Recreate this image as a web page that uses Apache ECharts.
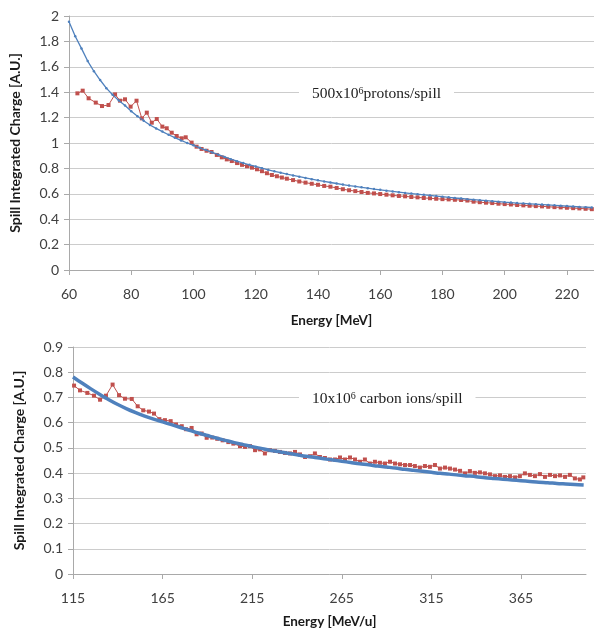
<!DOCTYPE html>
<html>
<head>
<meta charset="utf-8">
<script src="https://cdn.jsdelivr.net/npm/echarts@6/dist/echarts.min.js"></script>
<style>
html,body{margin:0;padding:0;background:#fff;}
#c{width:594px;height:635px;}
</style>
</head>
<body>
<div id="c"></div>
<script>
// ---------- Top chart (protons) ----------
const topXTicks = [60, 80, 100, 120, 140, 160, 180, 200, 220];
const topBlueE = [60,62,64,66,68,70,72,74,76,78,80,82,84,86,88,90,92,94,96,98,100,102,104,106,108,110,112,114,116,118,120,122,124,126,128,130,132,134,136,138,140,142,144,146,148,150,152,154,156,158,160,162,164,166,168,170,172,174,176,178,180,182,184,186,188,190,192,194,196,198,200,202,204,206,208,210,212,214,216,218,220,222,224,226,228];
const topBlueV = [1.955,1.84,1.745,1.645,1.565,1.496,1.432,1.38,1.335,1.295,1.25,1.21,1.175,1.142,1.115,1.09,1.065,1.042,1.02,1.0,0.982,0.962,0.944,0.926,0.908,0.89,0.873,0.857,0.842,0.828,0.815,0.802,0.789,0.777,0.766,0.755,0.745,0.735,0.725,0.715,0.706,0.697,0.689,0.681,0.673,0.665,0.658,0.651,0.644,0.637,0.631,0.625,0.619,0.613,0.607,0.602,0.597,0.592,0.587,0.582,0.577,0.572,0.567,0.563,0.558,0.554,0.55,0.546,0.542,0.538,0.534,0.531,0.527,0.524,0.521,0.518,0.515,0.512,0.509,0.506,0.503,0.5,0.497,0.495,0.492];
const topRedE = [62.7,64.4,66.3,68.6,70.6,72.7,74.8,76.4,78.0,79.8,81.7,83.4,85.0,86.6,88.2,90.0,91.4,93.0,94.6,96.2,97.5,99.4,101.0,102.6,104.2,105.8,107.5,109.1,110.7,112.3,114,115.6,117.2,118.8,120.4,122,123.6,125.2,126.8,128.4,130,132,134,136,138,140,142,144,146,148,150,152,154,156,158,160,162,164,166,168,170,172,174,176,178,180,182,184,186,188,190,192,194,196,198,200,202,204,206,208,210,212,214,216,218,220,222,224,226,228];
const topRedV = [1.391,1.412,1.352,1.318,1.291,1.299,1.383,1.333,1.344,1.286,1.333,1.194,1.239,1.160,1.189,1.129,1.116,1.081,1.055,1.037,1.045,1.003,0.971,0.953,0.939,0.929,0.906,0.887,0.871,0.858,0.842,0.828,0.817,0.806,0.793,0.778,0.762,0.748,0.738,0.728,0.719,0.708,0.697,0.688,0.679,0.671,0.662,0.656,0.646,0.636,0.628,0.621,0.614,0.607,0.603,0.598,0.593,0.588,0.583,0.580,0.575,0.572,0.567,0.565,0.561,0.558,0.556,0.553,0.551,0.547,0.538,0.534,0.530,0.527,0.522,0.519,0.516,0.512,0.509,0.506,0.503,0.501,0.498,0.495,0.493,0.490,0.487,0.485,0.482,0.479];

// ---------- Bottom chart (carbon) ----------
const botXTicks = [115, 165, 215, 265, 315, 365];
const botBlueE = [115,120,125,130,135,140,145,150,155,160,165,170,175,180,185,190,195,200,205,210,215,220,225,230,235,240,245,250,255,260,265,270,275,280,285,290,295,300,305,310,315,320,325,330,335,340,345,350,355,360,365,370,375,380,385,390,395,400];
const botBlueV = [0.781,0.757,0.734,0.712,0.691,0.672,0.655,0.640,0.626,0.614,0.603,0.592,0.581,0.570,0.559,0.549,0.539,0.530,0.521,0.513,0.505,0.498,0.491,0.485,0.479,0.473,0.467,0.462,0.457,0.452,0.447,0.442,0.437,0.433,0.428,0.424,0.420,0.415,0.411,0.407,0.403,0.399,0.396,0.392,0.389,0.386,0.382,0.379,0.376,0.373,0.370,0.367,0.364,0.362,0.359,0.357,0.355,0.353];
const botRedE = [115.6,118.9,123.0,126.7,130.1,133.4,137.1,140.7,144.0,147.8,151.1,154.2,157.4,160.2,163.2,166.3,169.5,172.5,175.7,178.1,181.2,184.0,186.8,189.6,192.7,195.5,198.5,201.7,204.5,208.2,211.0,213.8,216.6,219.4,222.1,224.9,227.7,230.5,233.3,236.1,238.9,241.7,244.5,247.3,250.0,252.8,255.6,258.4,261.2,264.0,266.8,269.6,272.4,275.2,277.9,280.7,283.5,286.3,289.1,291.9,294.7,297.5,300.3,303.1,305.8,308.6,311.4,314.2,317.0,319.8,322.6,325.4,328.2,331.0,333.8,336.5,339.3,342.1,344.9,347.7,350.5,353.3,356.1,358.9,361.7,364.4,367.2,370.0,372.8,375.6,378.4,381.2,384.0,386.8,389.6,392.3,395.1,397.9,399.8];
const botRedV = [0.747,0.728,0.718,0.707,0.691,0.707,0.751,0.709,0.695,0.694,0.665,0.649,0.644,0.636,0.614,0.610,0.606,0.593,0.586,0.574,0.579,0.554,0.557,0.540,0.541,0.536,0.530,0.523,0.517,0.507,0.504,0.507,0.491,0.494,0.478,0.491,0.488,0.484,0.480,0.478,0.484,0.474,0.464,0.467,0.478,0.464,0.460,0.454,0.454,0.462,0.454,0.462,0.454,0.445,0.454,0.438,0.445,0.441,0.438,0.445,0.438,0.435,0.432,0.432,0.428,0.422,0.428,0.425,0.432,0.418,0.422,0.418,0.414,0.409,0.399,0.408,0.401,0.403,0.399,0.395,0.388,0.391,0.385,0.388,0.383,0.388,0.399,0.393,0.388,0.396,0.385,0.393,0.388,0.391,0.385,0.393,0.379,0.375,0.383];

const yTitle = 'Spill Integrated Charge [A.U.]';
const topXTitle = 'Energy [MeV]';
const botXTitle = 'Energy [MeV/u]';

const pairs = (xs, ys) => xs.map((x, i) => [x, ys[i]]);

const BLUE = '#4F81BD';
const RED = '#C0504D';
const GRID = '#CCCCCC';
const AXIS = '#A9A9A9';
const LBL = '#404040';
const FONT = 'Lato, "Open Sans", sans-serif';
const SERIF = '"Liberation Serif", "Times New Roman", serif';

function xAxisCfg(idx, min, max, interval, name, gap) {
  return {
    type: 'value', gridIndex: idx, min: min, max: max, interval: interval,
    name: name, nameLocation: 'middle', nameGap: gap,
    nameTextStyle: {fontFamily: FONT, fontWeight: 'bold', fontSize: 13.5, color: '#1a1a1a'},
    axisLine: {show: true, onZero: false, lineStyle: {color: AXIS, width: 1}},
    axisTick: {show: true, length: 5, lineStyle: {color: AXIS}},
    axisLabel: {fontFamily: FONT, fontSize: 14, color: LBL, margin: 17, showMaxLabel: false},
    splitLine: {show: false}
  };
}
function yAxisCfg(idx, max, interval) {
  return {
    type: 'value', gridIndex: idx, min: 0, max: max, interval: interval,
    name: yTitle, nameLocation: 'middle', nameGap: 47, nameRotate: 90,
    nameTextStyle: {fontFamily: FONT, fontWeight: 'bold', fontSize: 14, color: '#1a1a1a'},
    axisLine: {show: true, lineStyle: {color: AXIS, width: 1}},
    axisTick: {show: true, length: 5, lineStyle: {color: AXIS}},
    axisLabel: {fontFamily: FONT, fontSize: 14, color: LBL, margin: 10},
    splitLine: {show: true, lineStyle: {color: GRID, width: 1}}
  };
}

const chart = echarts.init(document.getElementById('c'), null, {renderer: 'canvas'});
chart.setOption({
  backgroundColor: '#ffffff',
  animation: false,
  grid: [
    {left: 69, top: 16, width: 525, height: 254},
    {left: 73, top: 347, width: 513, height: 227}
  ],
  xAxis: [
    xAxisCfg(0, 60, 228.7, 20, topXTitle, 44),
    xAxisCfg(1, 115, 401.3, 50, botXTitle, 41)
  ],
  yAxis: [
    yAxisCfg(0, 2, 0.2),
    yAxisCfg(1, 0.9, 0.1)
  ],
  series: [
    {type: 'line', xAxisIndex: 0, yAxisIndex: 0, data: pairs(topBlueE, topBlueV),
     symbol: 'circle', symbolSize: 2.5, showSymbol: true, z: 3,
     lineStyle: {color: BLUE, width: 1.3}, itemStyle: {color: BLUE}},
    {type: 'line', xAxisIndex: 0, yAxisIndex: 0, data: pairs(topRedE, topRedV),
     symbol: 'rect', symbolSize: 4, showSymbol: true, z: 2,
     lineStyle: {color: RED, width: 1}, itemStyle: {color: RED}},
    {type: 'line', xAxisIndex: 1, yAxisIndex: 1, data: pairs(botRedE, botRedV),
     symbol: 'rect', symbolSize: 4, showSymbol: true, z: 2,
     lineStyle: {color: RED, width: 1}, itemStyle: {color: RED}},
    {type: 'line', xAxisIndex: 1, yAxisIndex: 1, data: pairs(botBlueE, botBlueV),
     symbol: 'none', smooth: 0.3, z: 3,
     lineStyle: {color: BLUE, width: 3.5}}
  ],
  graphic: [
    {type: 'text', left: 299, top: 83, z: 10,
     style: {text: '500x10{s|6}protons/spill', fontFamily: SERIF,
       fontSize: 15.5, fill: '#222', backgroundColor: '#fff', padding: [3, 13, 3, 13],
       rich: {s: {fontSize: 10, verticalAlign: 'top', fontFamily: SERIF, fill: '#222'}}}},
    {type: 'text', left: 299, top: 388, z: 10,
     style: {text: '10x10{s|6} carbon ions/spill', fontFamily: SERIF,
       fontSize: 15.5, fill: '#222', backgroundColor: '#fff', padding: [3, 13, 3, 13],
       rich: {s: {fontSize: 10, verticalAlign: 'top', fontFamily: SERIF, fill: '#222'}}}}
  ]
});
</script>
</body>
</html>
